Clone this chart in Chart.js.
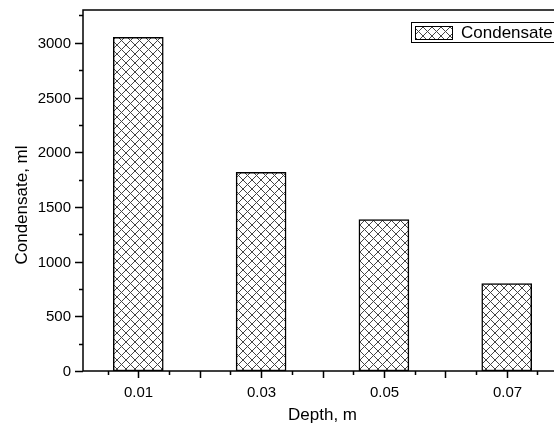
<!DOCTYPE html>
<html>
<head>
<meta charset="utf-8">
<script src="https://cdn.jsdelivr.net/npm/chart.js@4.4.0/dist/chart.umd.min.js"></script>
<style>
  html, body { margin: 0; padding: 0; background: #fff; overflow: hidden; }
  canvas { display: block; }
</style>
</head>
<body>
<canvas id="chart" width="580" height="429"></canvas>
<script>
// data
const depths = [0.01, 0.03, 0.05, 0.07];
const condensate = [3050, 1815, 1385, 800];
const yTicks = [0, 500, 1000, 1500, 2000, 2500, 3000];
const yMinorTicks = [250, 750, 1250, 1750, 2250, 2750, 3250];
const xTicks = [0.01, 0.02, 0.03, 0.04, 0.05, 0.06, 0.07];
const xTickLabels = ['0.01', '', '0.03', '', '0.05', '', '0.07'];
const xMinorTicks = [0.005, 0.015, 0.025, 0.035, 0.045, 0.055, 0.065, 0.075];

const FONT = 'Arial, "Liberation Sans", sans-serif';

// crosshatch fill like Origin
function crossHatch() {
  const c = document.createElement('canvas');
  c.width = 9; c.height = 9;
  const g = c.getContext('2d');
  g.fillStyle = '#fff';
  g.fillRect(0, 0, 9, 9);
  g.strokeStyle = '#444';
  g.lineWidth = 1;
  g.beginPath();
  g.moveTo(0, 0); g.lineTo(9, 9);
  g.moveTo(9, 0); g.lineTo(0, 9);
  g.stroke();
  return g.createPattern(c, 'repeat');
}

// axes, ticks, titles and legend drawn on top of the bars
const originAxes = {
  id: 'originAxes',
  afterDatasetsDraw(chart) {
    const { ctx, chartArea: a, scales: { x, y } } = chart;
    ctx.save();
    ctx.strokeStyle = '#000';
    ctx.lineWidth = 1.5;
    ctx.strokeRect(a.left, a.top, a.right - a.left, a.bottom - a.top);

    ctx.fillStyle = '#000';
    ctx.font = '15px ' + FONT;

    // y ticks
    ctx.textAlign = 'right';
    ctx.textBaseline = 'middle';
    ctx.beginPath();
    yTicks.forEach(v => {
      const py = Math.round(y.getPixelForValue(v)) + 0.5;
      ctx.moveTo(a.left - 8, py); ctx.lineTo(a.left, py);
      ctx.fillText(String(v), a.left - 12, py);
    });
    yMinorTicks.forEach(v => {
      const py = Math.round(y.getPixelForValue(v)) + 0.5;
      ctx.moveTo(a.left - 4, py); ctx.lineTo(a.left, py);
    });

    // x ticks
    ctx.textAlign = 'center';
    ctx.textBaseline = 'alphabetic';
    xTicks.forEach((v, i) => {
      const px = Math.round(x.getPixelForValue(v)) + 0.5;
      ctx.moveTo(px, a.bottom); ctx.lineTo(px, a.bottom + 7);
      if (xTickLabels[i]) ctx.fillText(xTickLabels[i], px, 397);
    });
    xMinorTicks.forEach(v => {
      const px = Math.round(x.getPixelForValue(v)) + 0.5;
      ctx.moveTo(px, a.bottom); ctx.lineTo(px, a.bottom + 4);
    });
    ctx.stroke();

    // axis titles
    ctx.font = '17px ' + FONT;
    ctx.fillText('Depth, m', x.getPixelForValue(0.04), 420);
    ctx.save();
    ctx.translate(27, 205);
    ctx.rotate(-Math.PI / 2);
    ctx.fillText('Condensate, ml', 0, 0);
    ctx.restore();

    // legend
    const ds = chart.data.datasets[0];
    ctx.lineWidth = 1;
    ctx.strokeRect(411.5, 22.5, 160, 20);
    ctx.fillStyle = ds.backgroundColor;
    ctx.fillRect(415, 26, 37, 13);
    ctx.strokeRect(415.5, 26.5, 37, 13);
    ctx.fillStyle = '#000';
    ctx.textAlign = 'left';
    ctx.font = '17px ' + FONT;
    ctx.fillText(ds.label, 461, 38);
    ctx.restore();
  }
};

new Chart(document.getElementById('chart'), {
  type: 'bar',
  data: {
    datasets: [{
      label: 'Condensate',
      data: depths.map((d, i) => ({ x: d, y: condensate[i] })),
      backgroundColor: crossHatch(),
      borderColor: '#000',
      borderWidth: 1.5,
      borderSkipped: false,
      barThickness: 50
    }]
  },
  options: {
    responsive: false,
    animation: false,
    layout: { padding: { left: 83, top: 10, right: 18, bottom: 58 } },
    plugins: { legend: { display: false }, tooltip: { enabled: false } },
    scales: {
      x: { type: 'linear', min: 0.001, max: 0.079, offset: false, display: false },
      y: { min: 0, max: 3300, display: false }
    }
  },
  plugins: [originAxes]
});
</script>
</body>
</html>
